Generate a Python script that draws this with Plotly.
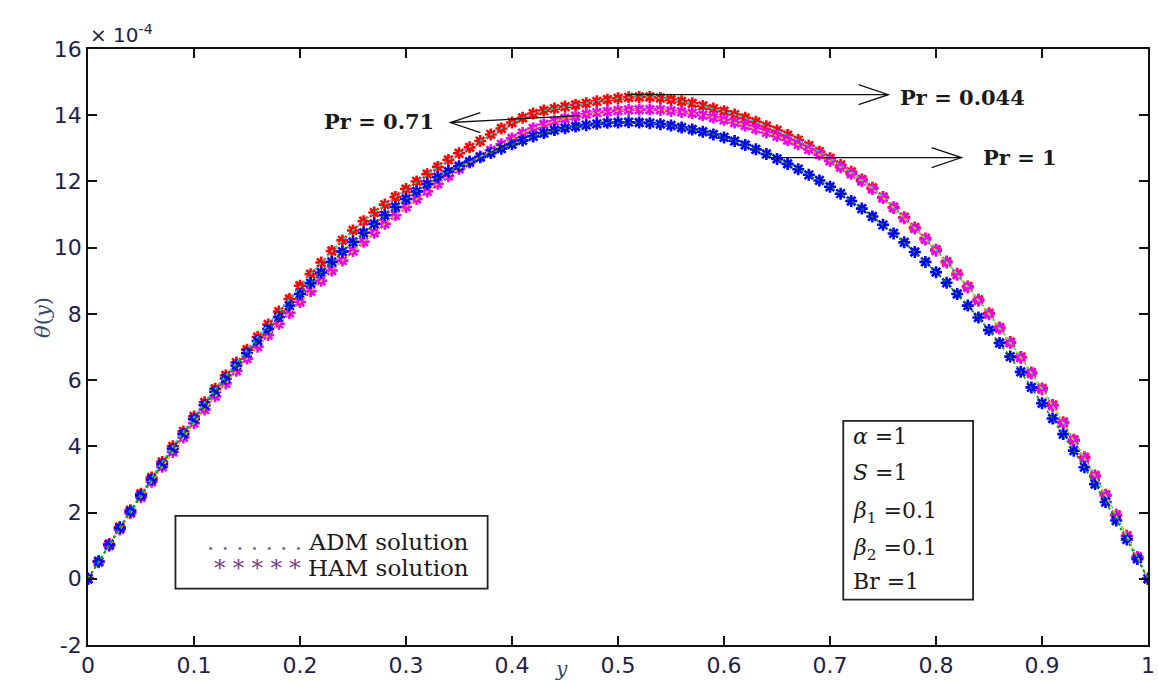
import plotly.graph_objects as go

# y positions (0 to 1, step 0.01)
y_pos = [0.00, 0.01, 0.02, 0.03, 0.04, 0.05, 0.06, 0.07, 0.08, 0.09,
         0.10, 0.11, 0.12, 0.13, 0.14, 0.15, 0.16, 0.17, 0.18, 0.19,
         0.20, 0.21, 0.22, 0.23, 0.24, 0.25, 0.26, 0.27, 0.28, 0.29,
         0.30, 0.31, 0.32, 0.33, 0.34, 0.35, 0.36, 0.37, 0.38, 0.39,
         0.40, 0.41, 0.42, 0.43, 0.44, 0.45, 0.46, 0.47, 0.48, 0.49,
         0.50, 0.51, 0.52, 0.53, 0.54, 0.55, 0.56, 0.57, 0.58, 0.59,
         0.60, 0.61, 0.62, 0.63, 0.64, 0.65, 0.66, 0.67, 0.68, 0.69,
         0.70, 0.71, 0.72, 0.73, 0.74, 0.75, 0.76, 0.77, 0.78, 0.79,
         0.80, 0.81, 0.82, 0.83, 0.84, 0.85, 0.86, 0.87, 0.88, 0.89,
         0.90, 0.91, 0.92, 0.93, 0.94, 0.95, 0.96, 0.97, 0.98, 0.99, 1.00]

# theta(y) in units of 1e-4
theta_pr0044 = [0, 0.53, 1.05, 1.56, 2.07, 2.57, 3.06, 3.53, 4.0, 4.45,
                4.9, 5.33, 5.74, 6.14, 6.53, 6.92, 7.3, 7.68, 8.07, 8.45,
                8.85, 9.2, 9.55, 9.9, 10.22, 10.52, 10.8, 11.06, 11.3, 11.53,
                11.77, 12.0, 12.22, 12.44, 12.65, 12.85, 13.03, 13.22, 13.42, 13.6,
                13.78, 13.92, 14.05, 14.14, 14.2, 14.26, 14.31, 14.36, 14.42, 14.47,
                14.51, 14.54, 14.55, 14.55, 14.52, 14.47, 14.42, 14.36, 14.28, 14.2,
                14.12, 14.02, 13.92, 13.8, 13.67, 13.54, 13.4, 13.25, 13.08, 12.9,
                12.7, 12.5, 12.29, 12.06, 11.81, 11.53, 11.22, 10.92, 10.61, 10.28,
                9.94, 9.58, 9.21, 8.83, 8.43, 8.02, 7.59, 7.15, 6.7, 6.23,
                5.75, 5.25, 4.73, 4.2, 3.67, 3.12, 2.54, 1.93, 1.3, 0.66, 0]

theta_pr071 = [0, 0.5, 1.0, 1.49, 1.98, 2.46, 2.93, 3.38, 3.83, 4.27,
               4.7, 5.11, 5.51, 5.9, 6.28, 6.65, 7.01, 7.36, 7.7, 8.03,
               8.36, 8.68, 9.0, 9.31, 9.61, 9.9, 10.18, 10.45, 10.72, 10.98,
               11.23, 11.47, 11.7, 11.93, 12.16, 12.38, 12.57, 12.75, 12.94, 13.12,
               13.3, 13.46, 13.6, 13.72, 13.82, 13.9, 13.97, 14.03, 14.08, 14.11,
               14.14, 14.16, 14.17, 14.17, 14.16, 14.13, 14.1, 14.06, 14.0, 13.93,
               13.86, 13.78, 13.69, 13.59, 13.48, 13.37, 13.25, 13.12, 12.97, 12.81,
               12.62, 12.43, 12.23, 12.01, 11.77, 11.5, 11.2, 10.89, 10.58, 10.25,
               9.91, 9.55, 9.18, 8.8, 8.4, 7.99, 7.56, 7.12, 6.67, 6.2,
               5.72, 5.22, 4.7, 4.17, 3.64, 3.09, 2.51, 1.91, 1.28, 0.65, 0]

theta_pr1 = [0, 0.52, 1.03, 1.53, 2.03, 2.52, 3.0, 3.46, 3.92, 4.37,
             4.82, 5.24, 5.65, 6.05, 6.44, 6.82, 7.18, 7.54, 7.9, 8.25,
             8.6, 8.93, 9.25, 9.57, 9.88, 10.17, 10.45, 10.72, 10.98, 11.23,
             11.47, 11.7, 11.92, 12.13, 12.3, 12.46, 12.6, 12.73, 12.86, 12.99,
             13.12, 13.24, 13.36, 13.46, 13.55, 13.61, 13.66, 13.7, 13.74, 13.77,
             13.78, 13.79, 13.78, 13.76, 13.73, 13.69, 13.63, 13.57, 13.5, 13.42,
             13.33, 13.22, 13.1, 12.97, 12.83, 12.68, 12.53, 12.37, 12.2, 12.03,
             11.84, 11.63, 11.41, 11.18, 10.94, 10.69, 10.43, 10.16, 9.87, 9.57,
             9.26, 8.94, 8.6, 8.25, 7.89, 7.51, 7.12, 6.71, 6.25, 5.78,
             5.3, 4.84, 4.37, 3.87, 3.37, 2.86, 2.32, 1.76, 1.19, 0.6, 0]

x_ticks = [0, 0.1, 0.2, 0.3, 0.4, 0.5, 0.6, 0.7, 0.8, 0.9, 1]
x_tick_text = ["0", "0.1", "0.2", "0.3", "0.4", "0.5", "0.6", "0.7", "0.8", "0.9", "1"]
y_ticks = [-2, 0, 2, 4, 6, 8, 10, 12, 14, 16]
y_tick_text = ["-2", "0", "2", "4", "6", "8", "10", "12", "14", "16"]

series = [
    (theta_pr0044, "#ff0000", "#22cccc"),
    (theta_pr071, "#ee00ee", "#cccc00"),
    (theta_pr1, "#0000ff", "#118811"),
]

fig = go.Figure()
for vals, mcol, lcol in series:
    fig.add_trace(go.Scatter(
        x=y_pos, y=vals, mode="markers",
        marker=dict(symbol="asterisk-open", size=10, color=mcol,
                    line=dict(color=mcol, width=2.6)),
        showlegend=False, hoverinfo="skip"))
for vals, mcol, lcol in series:
    fig.add_trace(go.Scatter(
        x=y_pos, y=vals, mode="lines",
        line=dict(color=lcol, width=1.7, dash="dot"),
        showlegend=False, hoverinfo="skip"))

sans = "DejaVu Sans, Liberation Sans, Arial, sans-serif"
serif = "DejaVu Serif, Liberation Serif, Times New Roman, serif"
tick_font = dict(family=sans, size=22, color="#1e1e4a")

fig.update_layout(
    width=1158, height=683,
    margin=dict(l=88, r=3, t=49, b=38),
    paper_bgcolor="white", plot_bgcolor="white",
    xaxis=dict(range=[0, 1], tickvals=x_ticks, ticktext=x_tick_text,
               ticks="inside", ticklen=9, tickwidth=1.5, tickcolor="#111",
               showline=True, linecolor="#111", linewidth=1.8, mirror="ticks",
               showgrid=False, zeroline=False, tickfont=tick_font,
               ticklabeloverflow="allow"),
    yaxis=dict(range=[-2, 16], tickvals=y_ticks, ticktext=y_tick_text,
               ticks="inside", ticklen=9, tickwidth=1.5, tickcolor="#111",
               showline=True, linecolor="#111", linewidth=1.8, mirror="ticks",
               showgrid=False, zeroline=False, tickfont=tick_font),
)

# pixel-size helpers for the annotation arrows (plot area 1067 x 596 px)
PX_X = 1.0 / 1067.0
PX_Y = 18.0 / 596.0

# multiplier label
fig.add_annotation(xref="paper", yref="paper", x=0.0, y=1.0, xanchor="left", yanchor="bottom",
                   text="× 10<sup>-4</sup>", showarrow=False,
                   font=dict(family=sans, size=20, color="#1e1e4a"))
# axis titles
fig.add_annotation(xref="paper", yref="paper", x=-0.055, y=0.55, textangle=-90,
                   text="<i>θ</i>(<i>y</i>)", showarrow=False,
                   font=dict(family=serif, size=21, color="#34466e"))
fig.add_annotation(xref="paper", yref="paper", x=0.447, y=-0.064, yanchor="bottom",
                   text="<i>y</i>", showarrow=False,
                   font=dict(family=serif, size=20, color="#34466e"))

lab_font = dict(family=serif, size=21, color="#1a1a1a")


def arrow(tail, head, direction):
    (tx, ty), (hx, hy) = tail, head
    fig.add_shape(type="line", x0=tx, y0=ty, x1=hx, y1=hy,
                  line=dict(color="#111", width=1.3))
    d = -1 if direction == "right" else 1
    path = "M {} {} L {} {} L {} {}".format(
        hx + d * 30 * PX_X, hy + 10 * PX_Y, hx, hy, hx + d * 30 * PX_X, hy - 10 * PX_Y)
    fig.add_shape(type="path", path=path, line=dict(color="#111", width=1.3))


# Pr labels and arrows
fig.add_annotation(x=0.764, y=14.55, xanchor="left", text="<b>Pr = 0.044</b>",
                   showarrow=False, font=lab_font)
arrow((0.508, 14.62), (0.755, 14.62), "right")
fig.add_annotation(x=0.842, y=12.72, xanchor="left", text="<b>Pr = 1</b>",
                   showarrow=False, font=lab_font)
arrow((0.642, 12.72), (0.824, 12.72), "right")
fig.add_annotation(x=0.328, y=13.8, xanchor="right", text="<b>Pr = 0.71</b>",
                   showarrow=False, font=lab_font)
arrow((0.464, 13.99), (0.342, 13.78), "left")

# legend box
fig.add_shape(type="rect", x0=0.0825, x1=0.377, y0=-0.3, y1=1.9,
              line=dict(color="#222", width=1.8), fillcolor="white", layer="above")
leg_font = dict(family=serif, size=23, color="#1a1a1a")
fig.add_annotation(x=0.3615, y=1.12, xanchor="right",
                   text="<span style='color:#6a6aa0'>. . . . . . . </span>ADM solution",
                   showarrow=False, font=leg_font)
fig.add_annotation(x=0.3615, y=0.33, xanchor="right",
                   text="<span style='color:#7a3a8a'>* * * * * </span>HAM solution",
                   showarrow=False, font=leg_font)

# parameter box
fig.add_shape(type="rect", x0=0.7125, x1=0.835, y0=-0.63, y1=4.77,
              line=dict(color="#222", width=1.8), fillcolor="white", layer="above")
params = ["<i>α</i> =1", "<i>S</i> =1", "<i>β</i><sub>1</sub> =0.1",
          "<i>β</i><sub>2</sub> =0.1", "Br =1"]
p_y = [4.29, 3.2, 2.0, 0.89, -0.09]
for t, yy in zip(params, p_y):
    fig.add_annotation(x=0.72, y=yy, xanchor="left", text=t, showarrow=False,
                       font=dict(family=serif, size=22, color="#1a1a1a"))

fig.write_html("out.html")
